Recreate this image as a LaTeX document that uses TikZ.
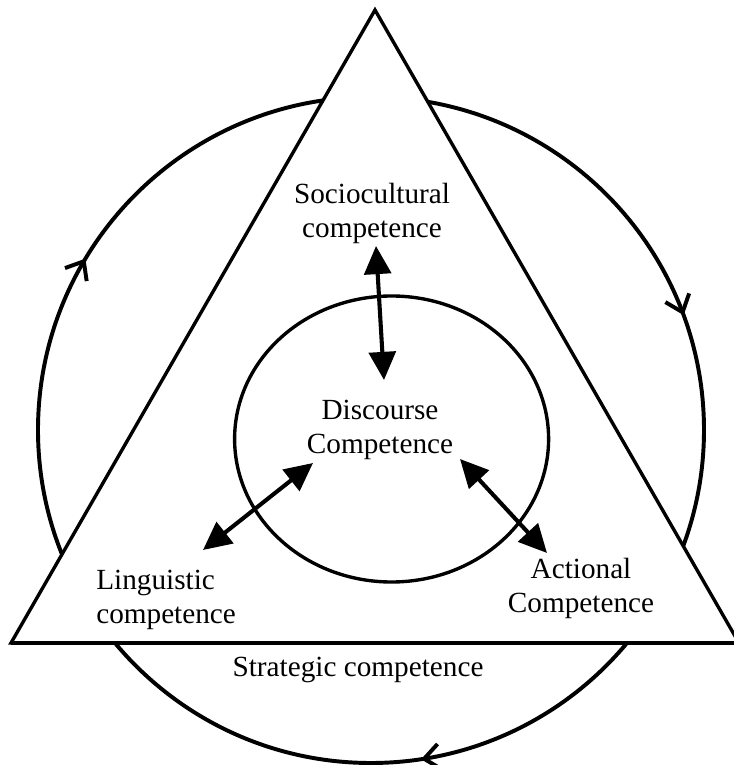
\documentclass[tikz,border=0pt]{standalone}
\usepackage{fontspec}
\setmainfont{Liberation Serif}
\usetikzlibrary{arrows.meta, decorations.markings}

\begin{document}
\begin{tikzpicture}[
  comp/.style={font=\fontsize{20.8}{24.2}\selectfont, inner sep=0pt, align=center},
  twoway/.style={{Triangle[length=20pt,width=19pt]}-{Triangle[length=20pt,width=19pt]}, line width=2.9pt},
  cycletips/.style={postaction={decorate}, decoration={markings,
    mark=at position 0.226 with {\arrow{Straight Barb[length=11pt,width=18pt]}},
    mark=at position 0.586 with {\arrow{Straight Barb[length=11pt,width=18pt]}},
    mark=at position 0.944 with {\arrow{Straight Barb[length=11pt,width=18pt]}}}}
]
\useasboundingbox (0,0) rectangle (18.35,19.125);

% Strategic cycle (clockwise)
\draw[line width=2.8pt, cycletips] (9.275,8.375) ++(0:8.325)
  arc[start angle=0, end angle=-360, radius=8.325];

% Triangle, filled so the cycle stays outside
\filldraw[fill=white, line width=2.4pt] (9.375,18.875) -- (0.275,3.05) -- (18.475,3.05) -- cycle;
\draw[line width=3pt] (0.275,3.05) -- (18.475,3.05);

% Discourse circle
\draw[line width=2.4pt] (9.79,8.15) ellipse [x radius=3.925, y radius=3.575];

% Labels
\node[comp] (socio) at (9.3,13.8) {Sociocultural\\competence};
\node[comp] (disc) at (9.5,8.375) {Discourse\\Competence};
\node[comp, anchor=west, align=left] (ling) at (2.4,4.125) {Linguistic\\competence};
\node[comp] (action) at (14.525,4.425) {Actional\\Competence};
\node[comp] (strat) at (8.95,2.375) {Strategic competence};

% Two-way links
\draw[twoway] ([shift={(0.1,-0.825)}]socio.center) -- ([shift={(0.1,1.25)}]disc.center);
\draw[twoway] ([shift={(2.675,1.25)}]ling.west) -- ([shift={(-1.675,-0.825)}]disc.center);
\draw[twoway] ([shift={(2.0,-0.725)}]disc.center) -- ([shift={(-0.85,0.875)}]action.center);
\end{tikzpicture}
\end{document}
